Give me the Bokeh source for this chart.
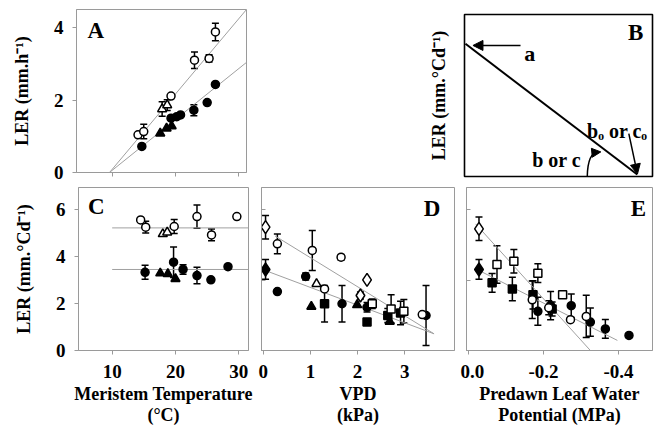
from bokeh.plotting import figure
from bokeh.layouts import column, row
from bokeh.models import (Range1d, FixedTicker, Whisker, TeeHead, ColumnDataSource,
                          Label, Arrow, NormalHead, CustomJSTickFormatter)
from bokeh.embed import file_html
from bokeh.resources import INLINE

FONT = "Liberation Serif"
FRAME = "#9a9a9a"
FIT = "#a0a0a0"

# ---------------- Panel A : LER (mm/h) vs meristem temperature ----------------
A_oc_T = [14.1, 15.0, 19.3, 23.0, 25.3, 26.3]
A_oc_L = [1.04, 1.13, 2.11, 3.10, 3.15, 3.88]
A_oc_E = [0.0, 0.20, 0.0, 0.23, 0.10, 0.24]
A_ot_T = [17.9, 18.7]
A_ot_L = [1.75, 1.86]
A_ot_E = [0.20, 0.15]
A_ft_T = [17.6, 18.6, 19.4]
A_ft_L = [1.08, 1.22, 1.28]
A_fc_T = [14.7, 19.3, 20.2, 20.8, 22.9, 25.0, 26.3]
A_fc_L = [0.72, 1.50, 1.54, 1.59, 1.72, 1.93, 2.43]
A_fc_E = [0, 0, 0, 0, 0.15, 0, 0]
A_fit_open_T = [9.6, 31.2]
A_fit_open_L = [0.0, 4.5]
A_fit_fill_T = [9.6, 31.2]
A_fit_fill_L = [0.0, 3.04]

# ---------------- Panel C : LER (mm/°Cd) vs meristem temperature ----------------
C_oc_T = [14.5, 15.3, 19.8, 23.4, 25.7, 29.7]
C_oc_L = [5.56, 5.25, 5.28, 5.70, 4.92, 5.70]
C_oc_E = [0, 0.25, 0.30, 0.50, 0.25, 0]
C_ot_T = [18.0, 18.7]
C_ot_L = [4.96, 5.03]
C_fc_T = [15.2, 19.7, 21.2, 23.4, 25.6, 28.3]
C_fc_L = [3.33, 3.76, 3.45, 3.19, 3.01, 3.57]
C_fc_E = [0.30, 0.65, 0.20, 0.35, 0, 0]
C_ft_T = [17.6, 18.8, 20.0]
C_ft_L = [3.29, 3.26, 3.05]
C_mean_T = [10.0, 31.6]
C_mean_open = 5.22
C_mean_fill = 3.45

# ---------------- Panel D : LER vs VPD ----------------
D_od_V = [0.05, 2.20, 2.06]
D_od_L = [5.25, 3.01, 2.34]
D_od_E = [0.50, 0, 0.15]
D_fd_V = [0.05]
D_fd_L = [3.45]
D_fd_E = [0.42]
D_oc_V = [0.30, 1.04, 1.65, 1.30, 3.37]
D_oc_L = [4.54, 4.26, 3.97, 2.62, 1.53]
D_oc_E = [0.42, 0.85, 0.12, 0.10, 0]
D_ot_V = [1.13]
D_ot_L = [2.84]
D_os_V = [2.31, 2.71, 2.98]
D_os_L = [1.99, 1.77, 1.67]
D_os_E = [0.20, 0.60, 0.50]
D_fc_V = [0.30, 0.90, 1.67, 2.20, 3.45]
D_fc_L = [2.51, 3.15, 1.99, 1.84, 1.49]
D_fc_E = [0, 0.15, 0.78, 0.20, 1.28]
D_ft_V = [1.02, 1.99, 2.68]
D_ft_L = [1.87, 1.94, 1.23]
D_fs_V = [1.30, 2.20, 2.64, 2.91]
D_fs_L = [1.99, 1.21, 1.49, 1.60]
D_fs_E = [0.78, 0, 0.30, 0.50]
D_fit_open_V = [0.25, 3.62]
D_fit_open_L = [4.88, 0.71]
D_fit_fill_V = [0.0, 3.62]
D_fit_fill_L = [3.44, 0.71]

# ---------------- Panel E : LER vs predawn leaf water potential ----------------
E_od_P = [-0.028]
E_od_L = [5.18]
E_od_E = [0.50]
E_fd_P = [-0.028]
E_fd_L = [3.45]
E_fd_E = [0.42]
E_os_P = [-0.076, -0.121, -0.185, -0.251]
E_os_L = [3.66, 3.80, 3.29, 2.37]
E_os_E = [0.80, 0.50, 0.40, 0]
E_fs_P = [-0.063, -0.117, -0.172, -0.223]
E_fs_L = [2.88, 2.62, 2.37, 1.77]
E_fs_E = [0.40, 0.50, 0.60, 0.30]
E_oc_P = [-0.170, -0.214, -0.272, -0.314]
E_oc_L = [2.16, 1.82, 1.31, 1.45]
E_oc_E = [0.80, 0.30, 0, 0.90]
E_fc_P = [-0.185, -0.219, -0.274, -0.325, -0.365, -0.428]
E_fc_L = [1.67, 1.91, 1.91, 1.21, 0.92, 0.64]
E_fc_E = [0.60, 0.60, 0.50, 0.60, 0.40, 0]
E_fit_open_P = [-0.019, -0.325]
E_fit_open_L = [5.39, 0.0]
E_fit_fill_P = [-0.019, -0.397]
E_fit_fill_L = [3.48, 0.43]

# ---------------- Panel B : schematic ----------------
B_line_x = [0.005, 0.919]
B_line_y = [0.819, 0.012]

X_TITLE_C = "Meristem Temperature\n(°C)"
X_TITLE_D = "VPD\n(kPa)"
X_TITLE_E = "Predawn Leaf Water\nPotential (MPa)"
Y_TITLE_A = "LER (mm.h⁻¹)"
Y_TITLE_C = "LER (mm.°Cd⁻¹)"


def style_axis(ax):
    ax.axis_line_color = FRAME
    ax.major_tick_line_color = FRAME
    ax.minor_tick_line_color = None
    ax.major_tick_out = 4
    ax.major_tick_in = 0
    ax.major_label_text_font = FONT
    ax.major_label_text_font_size = "19px"
    ax.major_label_text_font_style = "bold"
    ax.major_label_text_color = "black"
    ax.major_label_standoff = 9
    ax.axis_label_text_font = FONT
    ax.axis_label_text_font_size = "18px"
    ax.axis_label_text_font_style = "bold"
    ax.axis_label_text_color = "black"
    ax.axis_label_text_line_height = 1.05


def hide_labels(ax):
    ax.major_label_text_color = None
    ax.major_label_text_font_size = "1px"
    ax.major_label_standoff = 0


def base_fig(w, h, xr, yr, left, right, top, bottom, outline=FRAME):
    p = figure(width=w, height=h, x_range=Range1d(*xr), y_range=Range1d(*yr),
               output_backend="svg", toolbar_location=None, title=None,
               min_border_left=left, min_border_right=right,
               min_border_top=top, min_border_bottom=bottom)
    p.grid.visible = False
    p.outline_line_color = outline
    p.outline_line_width = 1
    p.background_fill_color = "white"
    p.border_fill_color = "white"
    style_axis(p.xaxis[0])
    style_axis(p.yaxis[0])
    return p


def points(p, x, y, marker, filled, size, err=None):
    if err is not None:
        bx = [a for a, e in zip(x, err) if e > 0]
        up = [b + e for b, e in zip(y, err) if e > 0]
        lo = [b - e for b, e in zip(y, err) if e > 0]
        if bx:
            src = ColumnDataSource(dict(base=bx, upper=up, lower=lo))
            p.add_layout(Whisker(source=src, base="base", upper="upper", lower="lower",
                                 line_color="black", line_width=1.5,
                                 upper_head=TeeHead(size=7, line_color="black", line_width=1.5),
                                 lower_head=TeeHead(size=7, line_color="black", line_width=1.5)))
    p.scatter(x, y, marker=marker, size=size,
              fill_color="black" if filled else "white",
              line_color="black", line_width=1.5)


def text(p, x, y, t, size, bold=False, align="left", baseline="alphabetic"):
    p.add_layout(Label(x=x, y=y, text=t, text_font=FONT, text_font_size=size,
                       text_font_style="bold" if bold else "normal", text_color="black",
                       text_align=align, text_baseline=baseline))


def letter(p, x, y, t):
    text(p, x, y, t, "23px", bold=True, align="center", baseline="middle")


# ---- Panel A ----
pA = base_fig(254, 182, (4.4, 31.2), (0, 4.5), 76, 8, 9, 10)
pA.xaxis.ticker = FixedTicker(ticks=[10, 20, 30])
hide_labels(pA.xaxis[0])
pA.yaxis.ticker = FixedTicker(ticks=[0, 2, 4])
pA.yaxis.axis_label = Y_TITLE_A
pA.yaxis.axis_label_standoff = 19
pA.line(A_fit_open_T, A_fit_open_L, line_color=FIT, line_width=1)
pA.line(A_fit_fill_T, A_fit_fill_L, line_color=FIT, line_width=1)
points(pA, A_fc_T, A_fc_L, "circle", True, 8, A_fc_E)
points(pA, A_ft_T, A_ft_L, "triangle", True, 9)
points(pA, A_ot_T, A_ot_L, "triangle", False, 9, A_ot_E)
points(pA, A_oc_T, A_oc_L, "circle", False, 8, A_oc_E)
letter(pA, 7.44, 3.92, "A")

# ---- Panel B ----
pB = base_fig(407, 182, (0, 1), (0, 1), 210, 9, 14, 6, outline="black")
pB.outline_line_width = 1.6
pB.xaxis.visible = False
pB.yaxis.ticker = FixedTicker(ticks=[])
pB.yaxis.axis_line_color = None
pB.yaxis.major_tick_out = 0
hide_labels(pB.yaxis[0])
pB.yaxis.axis_label = Y_TITLE_C
pB.yaxis.axis_label_standoff = 16
pB.line(B_line_x, B_line_y, line_color="black", line_width=2)
pB.add_layout(Arrow(end=NormalHead(size=10, fill_color="black", line_color="black"),
                    x_start=0.298, y_start=0.809, x_end=0.045, y_end=0.809,
                    line_color="black", line_width=1.5))
text(pB, 0.318, 0.76, "a", "22px", bold=True)
text(pB, 0.652, 0.283, "bₒ or cₒ", "20px", bold=True)
pB.add_layout(Arrow(end=NormalHead(size=10, fill_color="black", line_color="black"),
                    x_start=0.874, y_start=0.265, x_end=0.92, y_end=0.015,
                    line_color="black", line_width=1.5))
text(pB, 0.36, 0.099, "b or c", "20px", bold=True)
pB.bezier(x0=[0.653], y0=[0.0], x1=[0.712], y1=[0.150], cx0=[0.655], cy0=[0.11],
          cx1=[0.675], cy1=[0.15], line_color="black", line_width=1.5)
pB.add_layout(Arrow(end=NormalHead(size=9, fill_color="black", line_color="black"),
                    x_start=0.70, y_start=0.149, x_end=0.725, y_end=0.152,
                    line_color="black", line_width=1.5))
letter(pB, 0.91, 0.886, "B")

# ---- Panel C ----
pC = base_fig(254, 250, (4.68, 31.54), (0, 6.94), 78, 6, 5, 82)
pC.xaxis.ticker = FixedTicker(ticks=[10, 20, 30])
pC.yaxis.ticker = FixedTicker(ticks=[0, 2, 4, 6])
pC.yaxis.axis_label = Y_TITLE_C
pC.yaxis.axis_label_standoff = 19
pC.xaxis.major_label_standoff = 10
pC.xaxis.axis_label = X_TITLE_C
pC.xaxis.axis_label_standoff = 3
pC.line(C_mean_T, [C_mean_open, C_mean_open], line_color=FIT, line_width=1)
pC.line(C_mean_T, [C_mean_fill, C_mean_fill], line_color=FIT, line_width=1)
points(pC, C_fc_T, C_fc_L, "circle", True, 8, C_fc_E)
points(pC, C_ft_T, C_ft_L, "triangle", True, 9)
points(pC, C_ot_T, C_ot_L, "triangle", False, 9)
points(pC, C_oc_T, C_oc_L, "circle", False, 8, C_oc_E)
letter(pC, 7.48, 6.13, "C")

# ---- Panel D ----
pD = base_fig(206, 250, (-0.036, 4.053), (0, 6.94), 7, 6, 5, 82)
pD.xaxis.ticker = FixedTicker(ticks=[0, 1, 2, 3])
pD.yaxis.ticker = FixedTicker(ticks=[0, 3, 6])
pD.yaxis.major_tick_out = 0
pD.yaxis.major_tick_in = 4
hide_labels(pD.yaxis[0])
pD.xaxis.major_label_standoff = 10
pD.xaxis.axis_label = X_TITLE_D
pD.xaxis.axis_label_standoff = 3
pD.line(D_fit_open_V, D_fit_open_L, line_color=FIT, line_width=1)
pD.line(D_fit_fill_V, D_fit_fill_L, line_color=FIT, line_width=1)
points(pD, D_fc_V, D_fc_L, "circle", True, 8, D_fc_E)
points(pD, D_fs_V, D_fs_L, "square", True, 8, D_fs_E)
points(pD, D_ft_V, D_ft_L, "triangle", True, 9)
points(pD, D_fd_V, D_fd_L, "diamond", True, 13, D_fd_E)
points(pD, D_os_V, D_os_L, "square", False, 8, D_os_E)
points(pD, D_ot_V, D_ot_L, "triangle", False, 9)
points(pD, D_oc_V, D_oc_L, "circle", False, 8, D_oc_E)
points(pD, D_od_V, D_od_L, "diamond", False, 13, D_od_E)
letter(pD, 3.58, 6.06, "D")

# ---- Panel E ----
pE = base_fig(201, 250, (0.0053, -0.4907), (0, 6.94), 6, 9, 5, 82)
pE.xaxis.ticker = FixedTicker(ticks=[0.0, -0.2, -0.4])
pE.xaxis.formatter = CustomJSTickFormatter(code="return tick.toFixed(1);")
pE.yaxis.ticker = FixedTicker(ticks=[0, 3, 6])
pE.yaxis.major_tick_out = 0
pE.yaxis.major_tick_in = 4
hide_labels(pE.yaxis[0])
pE.xaxis.major_label_standoff = 10
pE.xaxis.axis_label = X_TITLE_E
pE.xaxis.axis_label_standoff = 3
pE.line(E_fit_open_P, E_fit_open_L, line_color=FIT, line_width=1)
pE.line(E_fit_fill_P, E_fit_fill_L, line_color=FIT, line_width=1)
points(pE, E_fc_P, E_fc_L, "circle", True, 8, E_fc_E)
points(pE, E_fs_P, E_fs_L, "square", True, 8, E_fs_E)
points(pE, E_fd_P, E_fd_L, "diamond", True, 13, E_fd_E)
points(pE, E_oc_P, E_oc_L, "circle", False, 8, E_oc_E)
points(pE, E_os_P, E_os_L, "square", False, 8, E_os_E)
points(pE, E_od_P, E_od_L, "diamond", False, 13, E_od_E)
letter(pE, -0.453, 6.06, "E")

# each plot wrapped on its own so that Bokeh does not align the frames of neighbours
layout = column(row(column(pA), column(pB)),
                row(column(pC), column(pD), column(pE)))
open("out.html", "w").write(file_html(layout, INLINE))
